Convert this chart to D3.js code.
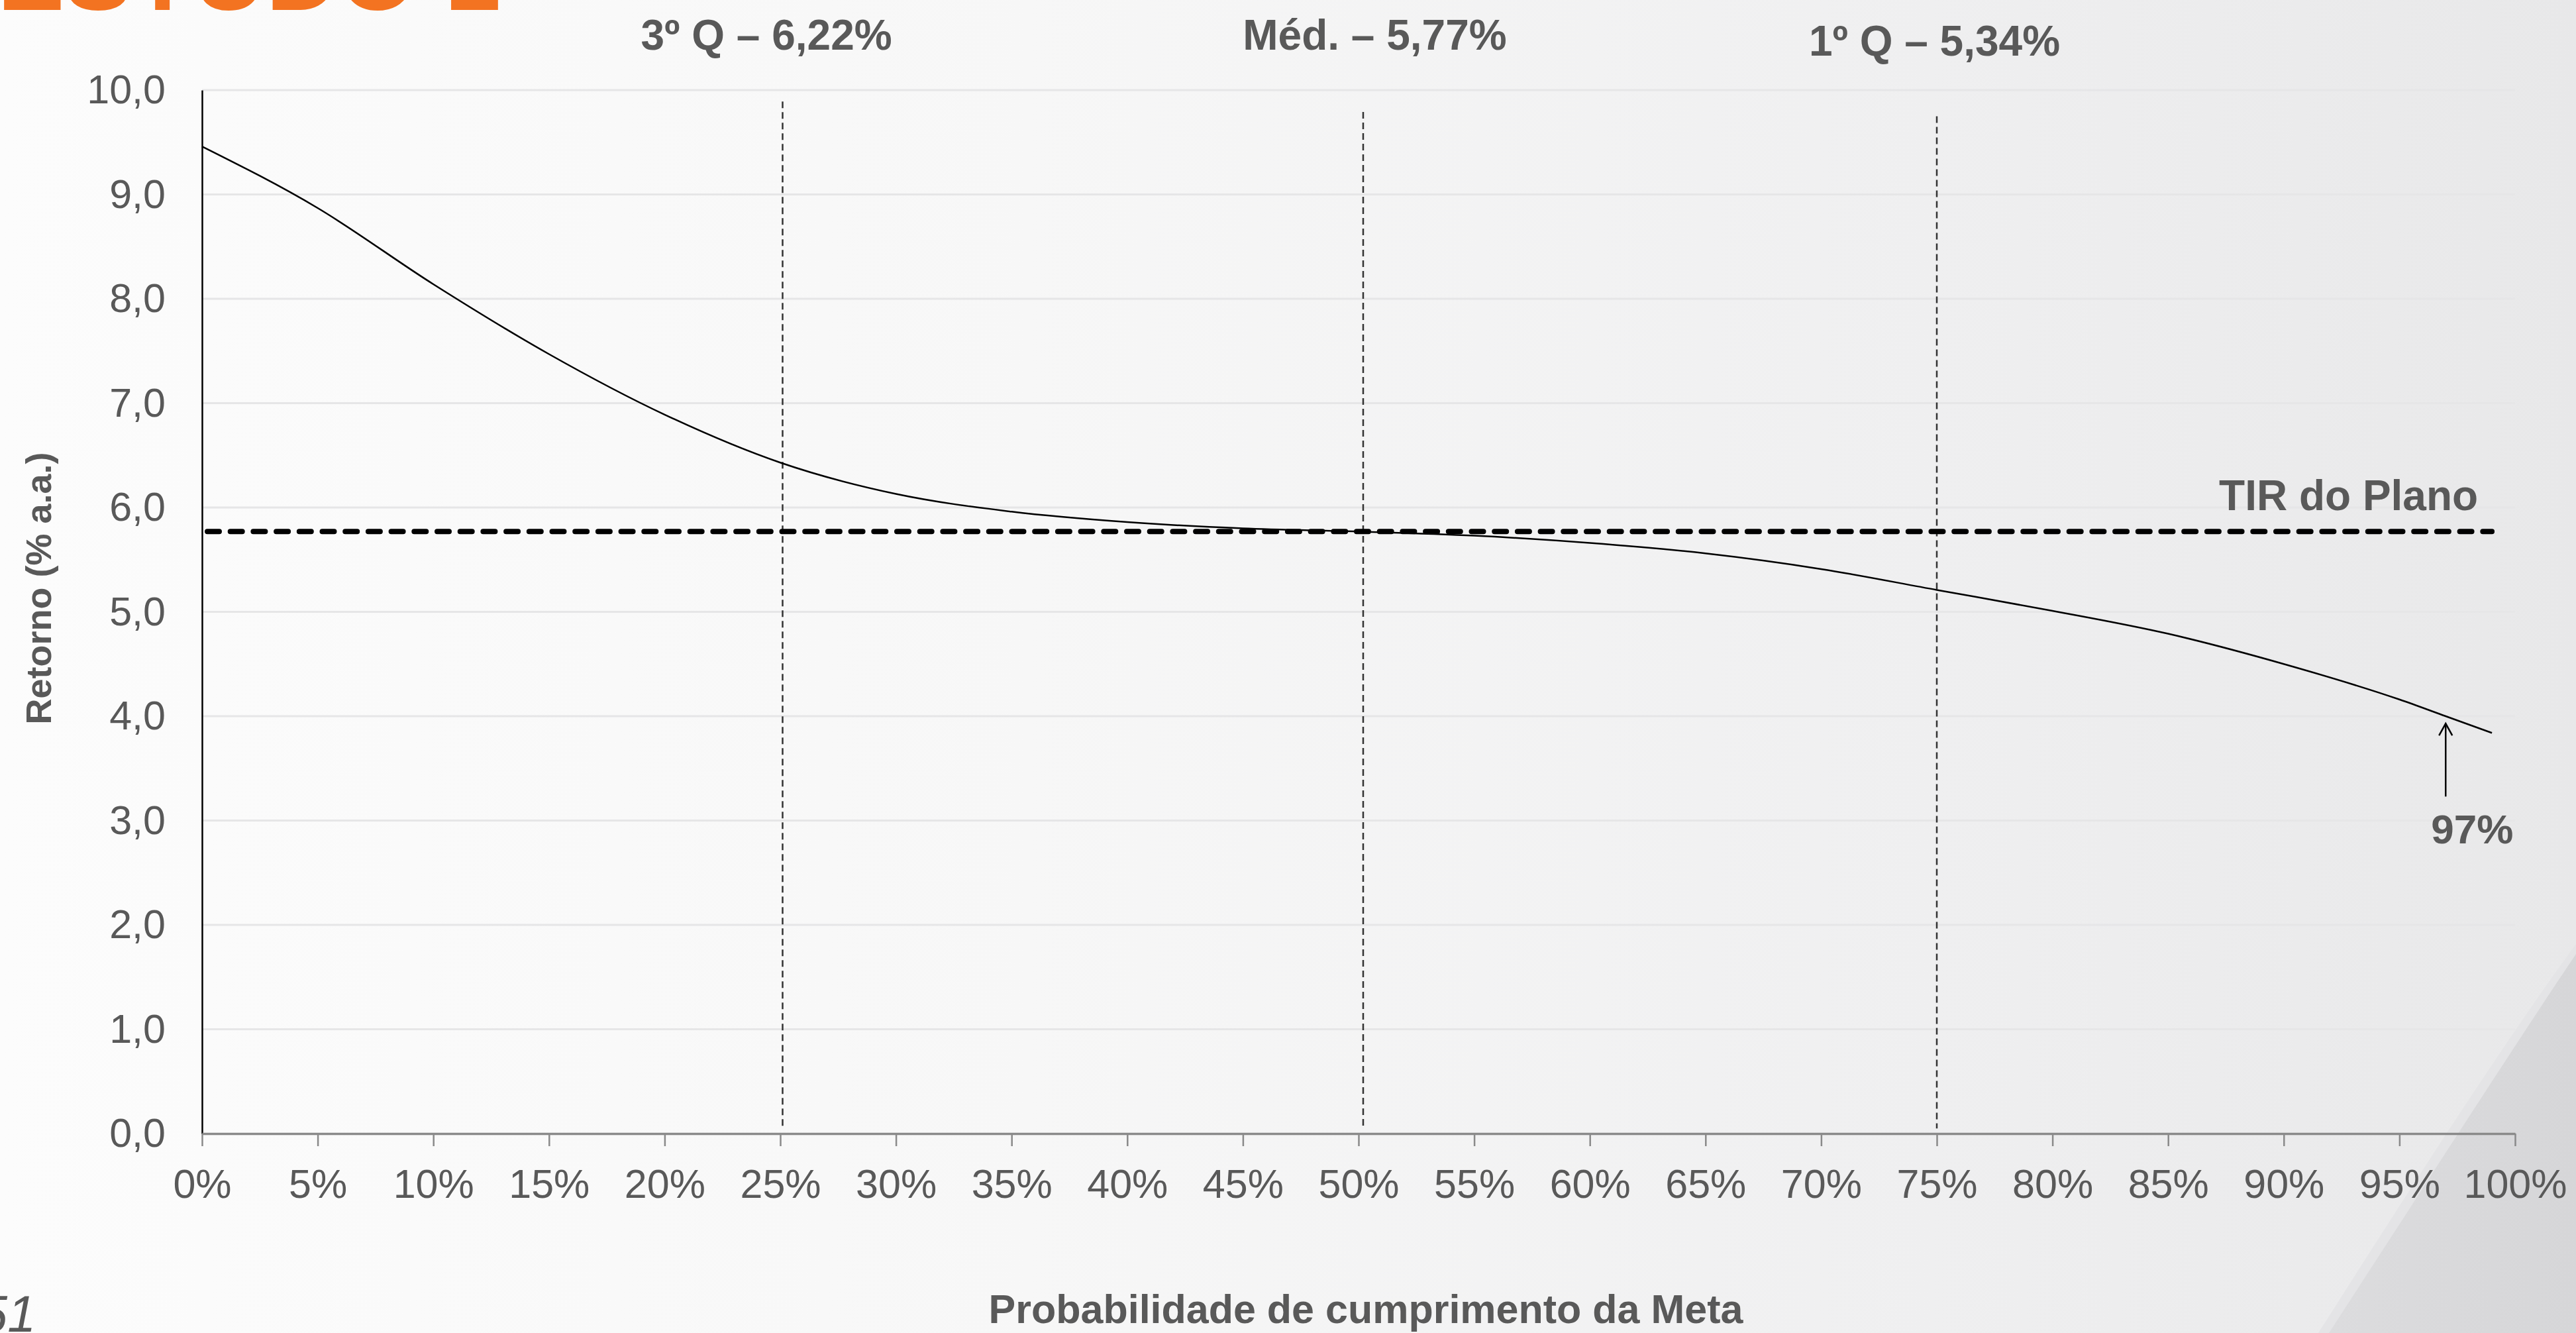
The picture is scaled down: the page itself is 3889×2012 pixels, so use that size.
<!DOCTYPE html>
<html lang="pt-BR">
<head>
<meta charset="utf-8">
<title>Retorno x Probabilidade de cumprimento da Meta</title>
<script src="https://cdn.jsdelivr.net/npm/d3@7/dist/d3.min.js"></script>
<style>
  html, body { margin: 0; padding: 0; overflow: hidden; background: #f7f7f7; }
  svg { display: block; font-family: "Liberation Sans", Arial, sans-serif; }
</style>
</head>
<body>
<svg id="chart" width="3889" height="2012"></svg>
<script>
// Probability of meeting the target (%) and the corresponding return (% a.a.)
const probs   = [0, 5, 10, 15, 20, 25, 30, 35, 40, 45, 50, 55, 60, 65, 70, 75, 80, 85, 90, 95, 97, 99];
const returns = [9.46, 8.87, 8.14, 7.47, 6.89, 6.43, 6.13, 5.96, 5.86, 5.80, 5.77, 5.73, 5.66, 5.56, 5.41, 5.21, 5.01, 4.79, 4.50, 4.16, 4.00, 3.84];

// Axis ticks
const xTicks = [0, 5, 10, 15, 20, 25, 30, 35, 40, 45, 50, 55, 60, 65, 70, 75, 80, 85, 90, 95, 100];
const yTicks = [0, 1, 2, 3, 4, 5, 6, 7, 8, 9, 10];

// Plan IRR reference line
const tirValue = 5.77;
const tirLabel = "TIR do Plano";

// Quartile markers: position on the probability axis, top of the marker, caption
const quartileProbs  = [25.1, 50.2, 75.0];
const quartileTops   = [9.89, 9.79, 9.75];
const quartileLabels = ["3º Q – 6,22%", "Méd. – 5,77%", "1º Q – 5,34%"];
const quartileLabelProbs = [24.4, 50.7, 74.9];
const quartileLabelLevels = [10.39, 10.39, 10.33];

// Highlighted point
const markProb = 97;
const markLabel = "97%";
const markArrowFrom = 3.23;
const markArrowTo = 3.93;

const title = "ESTUDO 1";
const pageNumber = "51";
const xTitle = "Probabilidade de cumprimento da Meta";
const yTitle = "Retorno (% a.a.)";

const W = 3889, H = 2012;
const margin = { left: 305, right: W - 3797, top: 136, bottom: H - 1711 };

const svg = d3.select("#chart");
const textGrey = "#595959";

// Background: soft horizontal gradient with a grey swoosh at the lower right
const defs = svg.append("defs");
const bg = defs.append("linearGradient").attr("id", "bg").attr("x1", 0).attr("x2", 1).attr("y1", 0).attr("y2", 0);
bg.append("stop").attr("offset", 0).attr("stop-color", "#fcfcfc");
bg.append("stop").attr("offset", 0.4).attr("stop-color", "#f7f7f7");
bg.append("stop").attr("offset", 0.75).attr("stop-color", "#efeff0");
bg.append("stop").attr("offset", 1).attr("stop-color", "#e8e8e9");
svg.append("rect").attr("width", W).attr("height", H).attr("fill", "url(#bg)");

const sw = defs.append("linearGradient").attr("id", "sw").attr("x1", 0).attr("x2", 1).attr("y1", 0).attr("y2", 0);
sw.append("stop").attr("offset", 0).attr("stop-color", "#dcdcde");
sw.append("stop").attr("offset", 1).attr("stop-color", "#d6d6d8");
svg.append("path")
  .attr("d", `M${W},1425 C3790,1560 3660,1760 3500,${H} L${W},${H} Z`)
  .attr("fill", "#e4e4e6");
svg.append("path")
  .attr("d", `M${W},1440 C3800,1572 3672,1772 3516,${H} L${W},${H} Z`)
  .attr("fill", "url(#sw)");

// Section title (partly above the visible area)
svg.append("text")
  .attr("x", -4).attr("y", 15)
  .attr("font-size", 152).attr("font-weight", "bold")
  .attr("fill", "#f37321")
  .text(title);

// Scales
const x = d3.scaleLinear().domain([0, 100]).range([margin.left, W - margin.right]);
const y = d3.scaleLinear().domain([0, 10]).range([H - margin.bottom, margin.top]);

// Horizontal gridlines
svg.append("g").selectAll("line").data(yTicks.filter(d => d > 0)).join("line")
  .attr("x1", x(0)).attr("x2", x(100))
  .attr("y1", d => y(d)).attr("y2", d => y(d))
  .attr("stroke", "#e6e6e7").attr("stroke-width", 3);

// Decimal comma formatting
const ptBR = d3.formatLocale({ decimal: ",", thousands: ".", grouping: [3], currency: ["R$", ""] });
const fmtY = ptBR.format(".1f");

// Y axis
const yAxis = svg.append("g")
  .attr("transform", `translate(${x(0)},0)`)
  .call(d3.axisLeft(y).tickValues(yTicks).tickFormat(fmtY).tickSize(0).tickPadding(55));
yAxis.select(".domain").attr("stroke", "#000").attr("stroke-width", 2.5);
yAxis.selectAll("text").attr("font-size", 61).attr("fill", textGrey)
  .attr("font-family", "'Liberation Sans', Arial, sans-serif");

// X axis
const xAxis = svg.append("g")
  .attr("transform", `translate(0,${y(0)})`)
  .call(d3.axisBottom(x).tickValues(xTicks).tickFormat(d => d + "%").tickSize(19).tickSizeOuter(0));
xAxis.select(".domain").attr("stroke", "#8a8a8a").attr("stroke-width", 3.5);
xAxis.selectAll(".tick line").attr("stroke", "#8a8a8a").attr("stroke-width", 2.5);
xAxis.selectAll("text").attr("font-size", 61).attr("fill", textGrey)
  .attr("font-family", "'Liberation Sans', Arial, sans-serif")
  .attr("y", 97).attr("dy", 0);

// Quartile markers
svg.append("g").selectAll("line").data(quartileProbs).join("line")
  .attr("x1", d => x(d)).attr("x2", d => x(d))
  .attr("y1", (d, i) => y(quartileTops[i])).attr("y2", y(0.05))
  .attr("stroke", "#333").attr("stroke-width", 2.5)
  .attr("stroke-dasharray", "10,6");

svg.append("g").selectAll("text").data(quartileLabels).join("text")
  .attr("x", (d, i) => x(quartileLabelProbs[i]))
  .attr("y", (d, i) => y(quartileLabelLevels[i]))
  .attr("text-anchor", "middle")
  .attr("font-size", 64).attr("font-weight", "bold").attr("fill", textGrey)
  .text(d => d);

// Plan IRR line
svg.append("line")
  .attr("x1", x(0) + 8).attr("x2", x(99))
  .attr("y1", y(tirValue)).attr("y2", y(tirValue))
  .attr("stroke", "#000").attr("stroke-width", 8)
  .attr("stroke-linecap", "round")
  .attr("stroke-dasharray", "18,16.7");
svg.append("text")
  .attr("x", x(98.4)).attr("y", y(tirValue) - 32)
  .attr("text-anchor", "end")
  .attr("font-size", 64).attr("font-weight", "bold").attr("fill", textGrey)
  .text(tirLabel);

// Return curve
const pts = probs.map((p, i) => [p, returns[i]]);
svg.append("path")
  .datum(pts)
  .attr("fill", "none").attr("stroke", "#000").attr("stroke-width", 2.5)
  .attr("d", d3.line().x(d => x(d[0])).y(d => y(d[1])).curve(d3.curveMonotoneX));

// Arrow pointing at the highlighted probability
const ax = x(markProb), ay0 = y(markArrowFrom), ay1 = y(markArrowTo);
const arrow = svg.append("g").attr("stroke", "#000").attr("stroke-width", 2.5).attr("fill", "none");
arrow.append("line").attr("x1", ax).attr("x2", ax).attr("y1", ay0).attr("y2", ay1);
arrow.append("path").attr("d", `M${ax - 10},${ay1 + 18} L${ax},${ay1} L${ax + 10},${ay1 + 18}`);
svg.append("text")
  .attr("x", ax + 40).attr("y", ay0 + 71)
  .attr("text-anchor", "middle")
  .attr("font-size", 62).attr("font-weight", "bold").attr("fill", textGrey)
  .text(markLabel);

// Axis titles
svg.append("text")
  .attr("x", 2062).attr("y", 1997)
  .attr("text-anchor", "middle")
  .attr("font-size", 61).attr("font-weight", "bold").attr("fill", textGrey)
  .text(xTitle);
svg.append("text")
  .attr("transform", `translate(77,888) rotate(-90)`)
  .attr("text-anchor", "middle")
  .attr("font-size", 54).attr("font-weight", "bold").attr("fill", textGrey)
  .text(yTitle);

// Page number
svg.append("text")
  .attr("x", 54).attr("y", 2010)
  .attr("text-anchor", "end")
  .attr("font-size", 77).attr("font-style", "italic").attr("fill", textGrey)
  .text(pageNumber);
</script>
</body>
</html>
